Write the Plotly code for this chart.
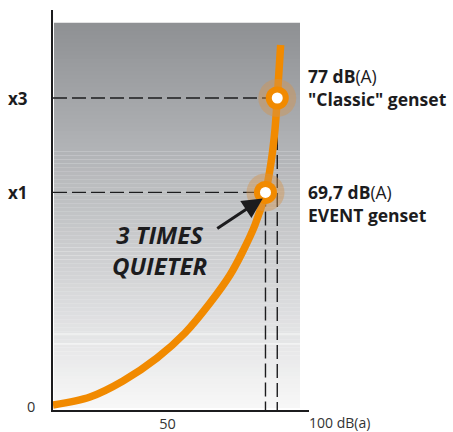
import plotly.graph_objects as go

# ---------------- data ----------------
# curve: x on a dB-like scale, y = relative perceived loudness (arbitrary units)
curve_x = [12.0, 24.28, 35.24, 46.53, 55.82, 64.12, 70.76, 74.75, 79.06, 82.55, 84.37, 85.69, 86.46, 87.59]
curve_y = [1.25, 3.25, 7.25, 13.0, 19.25, 26.75, 33.75, 39.25, 46.25, 54.4, 61.75, 70.0, 78.0, 91.25]

point_x = [82.55, 86.46]
point_y = [54.4, 78.0]
point_levels = ["69,7 dB", "77 dB"]
point_names = ["EVENT genset", '"Classic" genset']

ytick_vals = [1.0, 54.4, 78.0]
ytick_text = ["0", "x1", "x3"]
ytick_bold = [False, True, True]
xtick_vals = [50]
xtick_text = ["50"]
x_end_label = "100 dB(a)"

callout_lines = ["3 TIMES", "QUIETER"]

# ---------------- styling ----------------
W, H = 453, 432
ML, MR, MT, MB = 53, 144, 10, 22
PW = W - ML - MR
XR = [12, 97]
YR = [0, 100]
ORANGE = "#f18a00"
DARK = "#1c1c1e"
FONT = "Open Sans"
label_block_shift = [-2.65, 2.75]  # data units: centre of the 2-line label relative to the point

fig = go.Figure()

# background gradient (styling)
stops = [(23, (142, 144, 147)), (160, (180, 182, 185)), (280, (212, 213, 215)), (408, (248, 248, 248))]
ph = H - MT - MB


def py_to_paper(py):
    return (H - MB - py) / ph


def col_at(py):
    for (a, ca), (b, cb) in zip(stops[:-1], stops[1:]):
        if a <= py <= b:
            t = (py - a) / (b - a)
            return tuple(round(ca[i] + t * (cb[i] - ca[i])) for i in range(3))
    return stops[-1][1]


shapes = []
N = 96
top, bot = 23, 408
for i in range(N):
    y0 = top + (bot - top) * i / N
    y1 = top + (bot - top) * (i + 1) / N
    c = col_at((y0 + y1) / 2)
    shapes.append(dict(type="rect", xref="paper", yref="paper",
                       x0=1 / PW, x1=(300 - ML) / PW,
                       y0=py_to_paper(y1), y1=py_to_paper(y0) + 0.0005,
                       fillcolor="rgb(%d,%d,%d)" % c, line=dict(width=0), layer="below"))
# faint light lines near the bottom
for py in (334, 344):
    shapes.append(dict(type="line", xref="paper", yref="paper",
                       x0=1 / PW, x1=(300 - ML) / PW, y0=py_to_paper(py), y1=py_to_paper(py),
                       line=dict(color="rgba(255,255,255,0.8)", width=1), layer="below"))

# dashed guide lines from the points
for px_, py_ in zip(point_x, point_y):
    shapes.append(dict(type="line", xref="x", yref="y", x0=XR[0], x1=px_, y0=py_, y1=py_,
                       line=dict(color=DARK, width=1.4, dash="14px,5px"), layer="below"))
    shapes.append(dict(type="line", xref="x", yref="y", x0=px_, x1=px_, y0=py_, y1=YR[0],
                       line=dict(color=DARK, width=1.4, dash="14px,5px"), layer="below"))

# curve
fig.add_trace(go.Scatter(x=curve_x, y=curve_y, mode="lines",
                         line=dict(color=ORANGE, width=7.5, shape="spline", smoothing=0.9),
                         hoverinfo="skip", showlegend=False))
# markers: halo, orange ring, white centre
fig.add_trace(go.Scatter(x=point_x, y=point_y, mode="markers",
                         marker=dict(size=38, color="rgba(210,148,80,0.45)", line=dict(width=0)),
                         showlegend=False, hoverinfo="skip"))
fig.add_trace(go.Scatter(x=point_x, y=point_y, mode="markers",
                         marker=dict(size=23, color=ORANGE, line=dict(width=0)),
                         showlegend=False, hoverinfo="skip"))
fig.add_trace(go.Scatter(x=point_x, y=point_y, mode="markers",
                         marker=dict(size=11, color="white", line=dict(width=0)),
                         showlegend=False, hoverinfo="skip"))

annotations = []
# y labels
label_x_px = {False: 37, True: 30}
for v, t, b in zip(ytick_vals, ytick_text, ytick_bold):
    annotations.append(dict(xref="paper", yref="y", x=(label_x_px[b] - ML) / PW, y=v,
                            xanchor="right", yanchor="middle", showarrow=False,
                            text=("<b>%s</b>" % t) if b else t,
                            font=dict(family=FONT, size=17 if b else 14.5, color=DARK if b else "#333")))
# x end label
annotations.append(dict(xref="paper", yref="paper", x=(307 - ML) / PW, y=py_to_paper(422.5),
                        xanchor="left", yanchor="middle", showarrow=False, text=x_end_label,
                        font=dict(family=FONT, size=14, color="#333")))
# right-hand point labels
for py_, lev, name, sh in zip(point_y, point_levels, point_names, label_block_shift):
    annotations.append(dict(xref="paper", yref="y", x=(306 - ML) / PW, y=py_ + sh,
                            xanchor="left", yanchor="middle", align="left", showarrow=False,
                            text="<b>%s</b>(A)<br><b>%s</b>" % (lev, name),
                            font=dict(family=FONT, size=17.5, color=DARK)))
# arrow to the lower point
annotations.append(dict(xref="x", yref="y", x=point_x[0] - 0.9, y=point_y[0] - 1.5,
                        ax=-47, ay=31, axref="pixel", ayref="pixel", text="", showarrow=True,
                        arrowhead=2, arrowsize=1.35, arrowwidth=3, arrowcolor=DARK))
# callout text
annotations.append(dict(xref="paper", yref="paper", x=(160 - ML) / PW,
                        y=py_to_paper(250), xanchor="center", yanchor="middle", align="center",
                        showarrow=False,
                        text="<br>".join("<b><i>%s</i></b>" % l for l in callout_lines),
                        font=dict(family=FONT, size=24, color=DARK)))

fig.update_layout(
    width=W, height=H,
    margin=dict(l=ML, r=MR, t=MT, b=MB, pad=0, autoexpand=False),
    paper_bgcolor="white", plot_bgcolor="white",
    shapes=shapes, annotations=annotations,
    showlegend=False,
    xaxis=dict(range=XR, showgrid=False, zeroline=False, showline=True, linecolor=DARK, linewidth=1.6,
               tickvals=xtick_vals, ticktext=xtick_text, ticks="", automargin=False,
               tickfont=dict(family=FONT, size=14.5, color="#333"), fixedrange=True),
    yaxis=dict(range=YR, showgrid=False, zeroline=False, showline=True, linecolor=DARK, linewidth=1.6,
               showticklabels=False, ticks="", automargin=False, fixedrange=True),
)

fig.write_html("out.html", post_script="document.body.style.margin='0';",
               config={"displayModeBar": False})
